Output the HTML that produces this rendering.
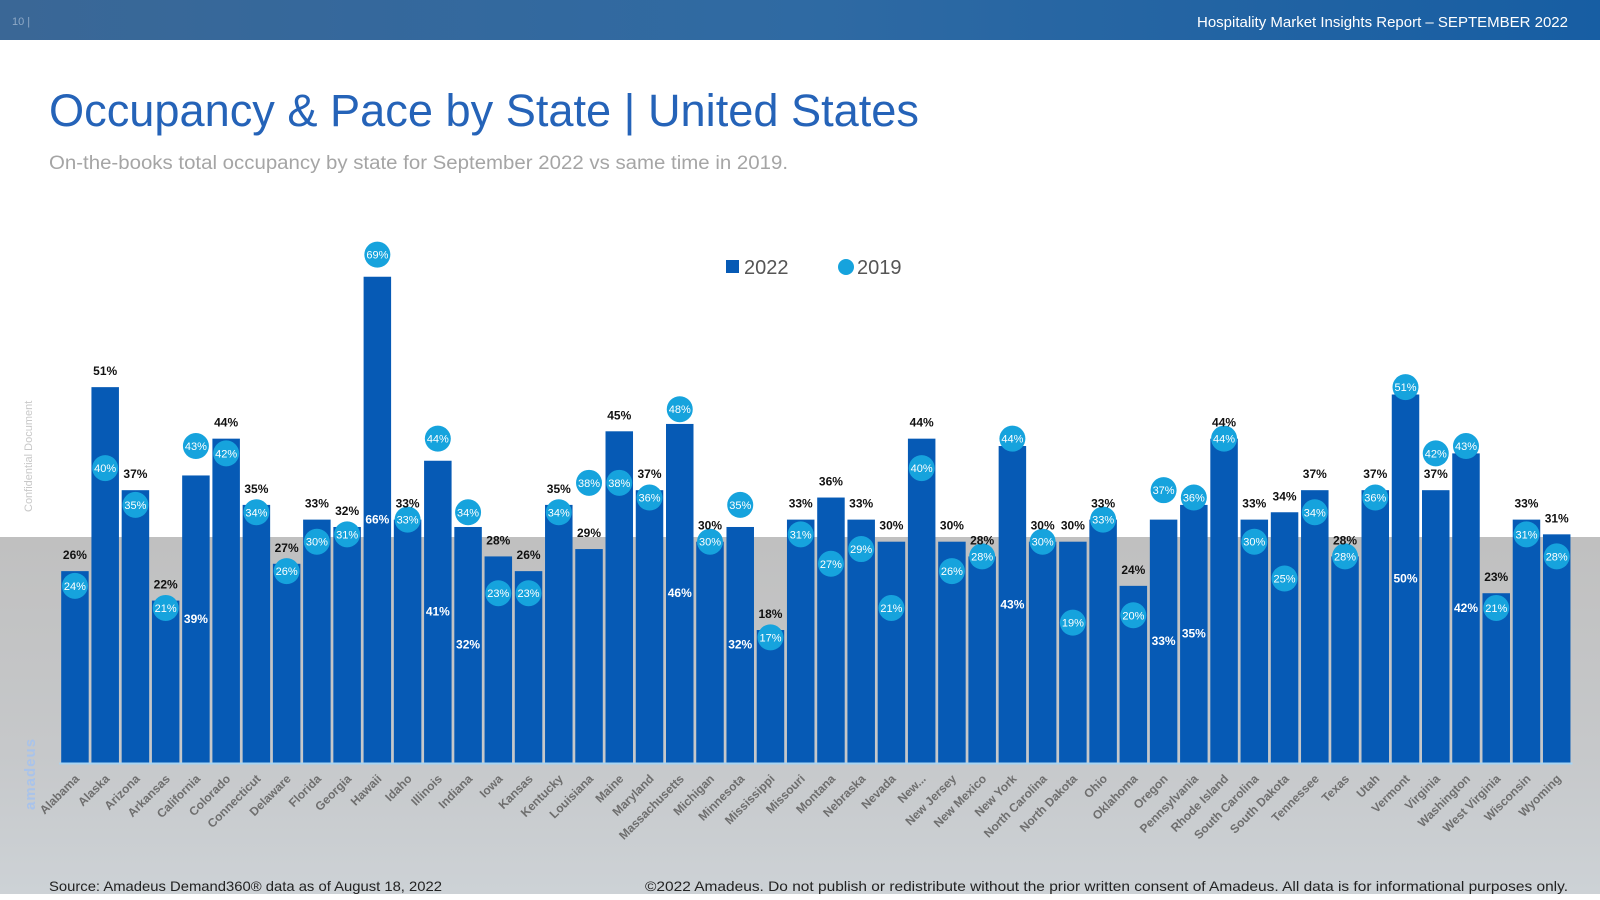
<!DOCTYPE html>
<html><head><meta charset="utf-8">
<style>
html,body{margin:0;padding:0;width:1600px;height:900px;overflow:hidden;background:#fff;font-family:"Liberation Sans",sans-serif;}
svg{display:block}
</style></head>
<body>
<svg id="chart" width="1600" height="900" viewBox="0 0 1600 900" xmlns="http://www.w3.org/2000/svg">
<defs>
<linearGradient id="hdr" x1="0" x2="1" y1="0" y2="0"><stop offset="0" stop-color="#3a6796"/><stop offset="0.5" stop-color="#2f6aa3"/><stop offset="1" stop-color="#175ea3"/></linearGradient>
<linearGradient id="bot" x1="0" x2="0" y1="0" y2="1"><stop offset="0" stop-color="#c0c0c0"/><stop offset="0.6" stop-color="#c6c8ca"/><stop offset="1" stop-color="#cdd2d6"/></linearGradient>
</defs>
<rect x="0" y="0" width="1600" height="40" fill="url(#hdr)"/>
<text x="12" y="25" font-size="11" fill="#8fa9c6">10 |</text>
<text x="1568" y="27" font-size="15" fill="#fff" text-anchor="end">Hospitality Market Insights Report – SEPTEMBER 2022</text>
<rect x="0" y="537" width="1600" height="357" fill="url(#bot)"/>
<text x="49" y="126" font-size="45" fill="#2563b8" textLength="870" lengthAdjust="spacingAndGlyphs">Occupancy &amp; Pace by State | United States</text>
<text x="49" y="169" font-size="19" fill="#a5a5a5" textLength="739" lengthAdjust="spacingAndGlyphs">On-the-books total occupancy by state for September 2022 vs same time in 2019.</text>
<text transform="translate(32,512) rotate(-90)" font-size="11" fill="#c8c8c8">Confidential Document</text>
<text transform="translate(35,810) rotate(-90)" font-size="15" font-weight="bold" fill="#a9c3ea" letter-spacing="1">amadeus</text>
<g>
<rect x="726" y="260" width="13" height="13" fill="#065ab5"/>
<text x="744" y="274" font-size="20" fill="#555">2022</text>
<circle cx="846" cy="267" r="8" fill="#16a3dd"/>
<text x="857" y="274" font-size="20" fill="#555">2019</text>
</g>
<g id="bars"></g><g id="dots"></g><g id="labels"></g>
<text x="49" y="891" font-size="14" fill="#222" textLength="393" lengthAdjust="spacingAndGlyphs">Source: Amadeus Demand360® data as of August 18, 2022</text>
<text x="645" y="891" font-size="14" fill="#222" textLength="923" lengthAdjust="spacingAndGlyphs">©2022 Amadeus. Do not publish or redistribute without the prior written consent of Amadeus. All data is for informational purposes only.</text>
</svg>
<script>
const states=["Alabama","Alaska","Arizona","Arkansas","California","Colorado","Connecticut","Delaware","Florida","Georgia","Hawaii","Idaho","Illinois","Indiana","Iowa","Kansas","Kentucky","Louisiana","Maine","Maryland","Massachusetts","Michigan","Minnesota","Mississippi","Missouri","Montana","Nebraska","Nevada","New...","New Jersey","New Mexico","New York","North Carolina","North Dakota","Ohio","Oklahoma","Oregon","Pennsylvania","Rhode Island","South Carolina","South Dakota","Tennessee","Texas","Utah","Vermont","Virginia","Washington","West Virginia","Wisconsin","Wyoming"];
const occ2022=[26,51,37,22,39,44,35,27,33,32,66,33,41,32,28,26,35,29,45,37,46,30,32,18,33,36,33,30,44,30,28,43,30,30,33,24,33,35,44,33,34,37,28,37,50,37,42,23,33,31];
const occ2019=[24,40,35,21,43,42,34,26,30,31,69,33,44,34,23,23,34,38,38,36,48,30,35,17,31,27,29,21,40,26,28,44,30,19,33,20,37,36,44,30,25,34,28,36,51,42,43,21,31,28];
const NS="http://www.w3.org/2000/svg";
const base=762.5, ppp=7.36, x0=61.2, step=30.24, bw=27.5;
function xPos(i){return x0+i*step;}
function yPos(v){return base-v*ppp;}
function mk(tag,attrs,parent,txt){const e=document.createElementNS(NS,tag);for(const k in attrs)e.setAttribute(k,attrs[k]);if(txt!==undefined)e.textContent=txt;document.getElementById(parent).appendChild(e);return e;}
const axis=mk('line',{x1:xPos(0)-2,x2:xPos(states.length-1)+bw+2,y1:base+1,y2:base+1,stroke:'#a8d4f2','stroke-width':2},'bars');


states.forEach((s,i)=>{
  const x=xPos(i), cx=x+bw/2, v=occ2022[i], p=occ2019[i];
  const b=mk('rect',{x:x,y:yPos(v),width:bw,height:base-yPos(v),fill:'#065ab5'},'bars');
  
  
  const t=mk('text',{transform:`translate(${cx+5},${base+17}) rotate(-45)`,'text-anchor':'end','font-size':12,'font-weight':'bold',fill:'#6e6e6e'},'labels',s);
  
  
  const inside=(p>v && p-v<=4);
  let lbl;
  if(inside){
    lbl=mk('text',{x:cx,y:(yPos(v)+base)/2+4,'text-anchor':'middle','font-size':12,'font-weight':'bold',fill:'#fff'},'labels',v+'%');
  } else {
    lbl=mk('text',{x:cx,y:yPos(v)-12,'text-anchor':'middle','font-size':12,'font-weight':'bold',fill:'#111'},'labels',v+'%');
  }
  
  
  const c=mk('circle',{cx:cx,cy:yPos(p),r:13,fill:'#16a3dd'},'dots');
  
  
  const ct=mk('text',{x:cx,y:yPos(p)+4,'text-anchor':'middle','font-size':11,fill:'#fff'},'dots',p+'%');
  
  
});
</script>
</body></html>
